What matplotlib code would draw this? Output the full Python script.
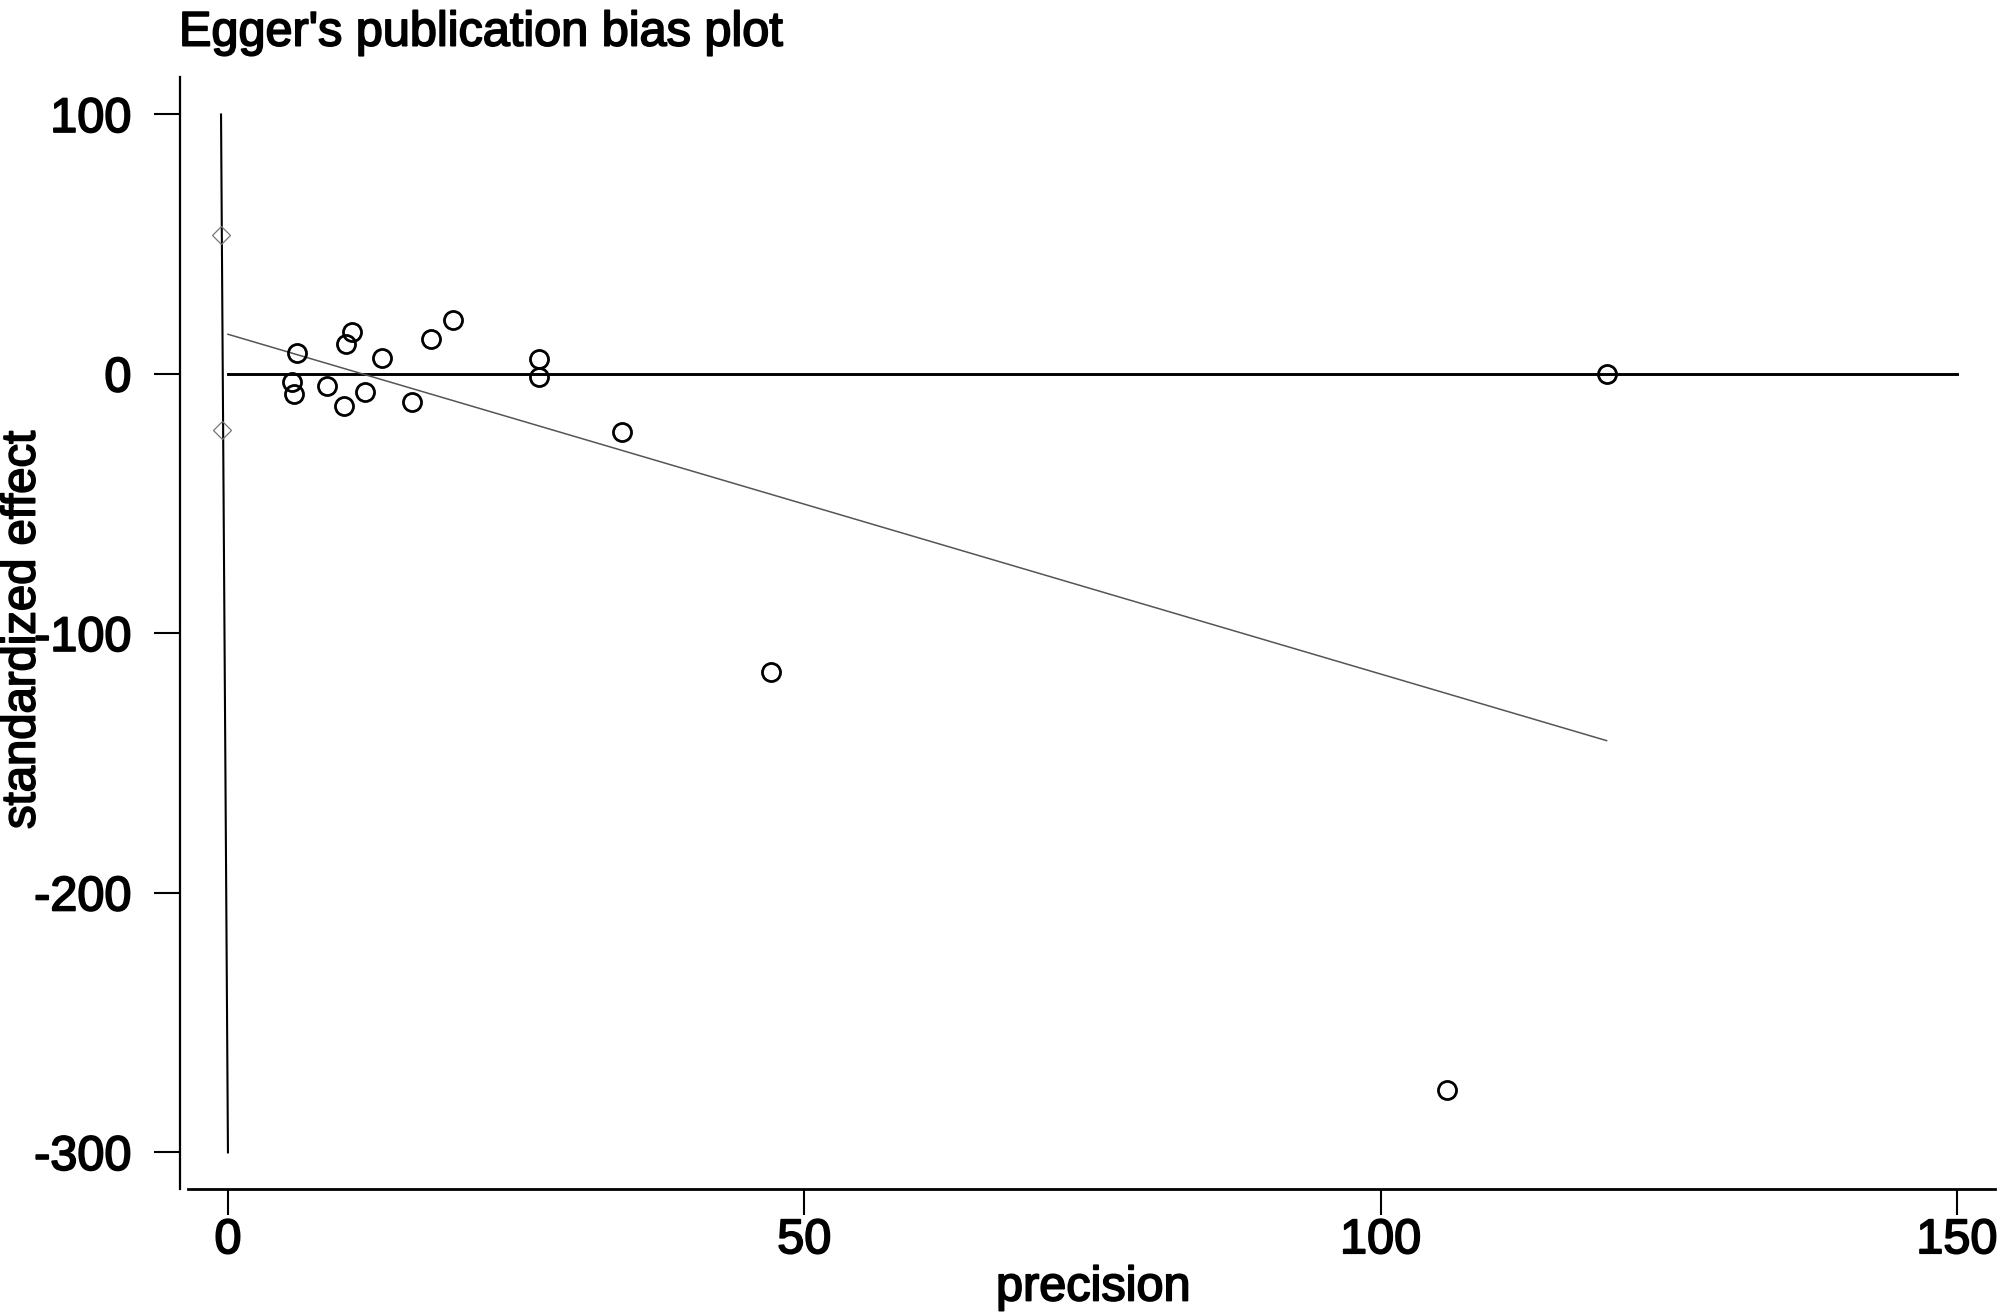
import numpy as np
import matplotlib
matplotlib.use("Agg")
import matplotlib.pyplot as plt
import matplotlib.patheffects as pe

plt.rcParams['font.family'] = ['Liberation Sans', 'DejaVu Sans']

# Estudios: precision y efecto estandarizado
precision = [5.96, 5.52, 5.75, 8.6, 10.1, 10.2, 10.8, 11.9, 13.4, 16.0,
             17.6, 19.5, 27.0, 27.0, 34.2, 47.1, 105.75, 119.6]
std_effect = [8.0, -3.0, -7.7, -4.6, -12.4, 11.5, 16.3, -7.1, 6.3, -10.9,
              13.4, 20.8, 5.7, -1.3, -22.3, -114.8, -275.9, 0.0]

# Recta de Egger
fit_x = [0.0, 119.6]
fit_y = [15.3, -141.3]

# IC del intercepto (rombos) y linea vertical
ci_x = [-0.57, -0.48]
ci_y = [53.6, -21.6]
vline_x = [-0.6, 0.0]
vline_y = [100, -300]

# Linea de referencia en cero
zero_x = [0, 150]
zero_y = [0, 0]

xticks = [0, 50, 100, 150]
yticks = [100, 0, -100, -200, -300]

FS = 35
grueso = [pe.withStroke(linewidth=1.3, foreground="black")]

fig = plt.figure(figsize=(20, 13.16), dpi=100)
ax = fig.add_axes([0.09, 0.0965, 0.9075, 0.845])

ax.plot(zero_x, zero_y, color="black", lw=2.1)
ax.plot(vline_x, vline_y, color="black", lw=1.5)
ax.plot(fit_x, fit_y, color="#555555", lw=1.1)
ax.plot(ci_x, ci_y, linestyle="none", marker="D", markersize=9,
        markerfacecolor="none", markeredgecolor="#777777", markeredgewidth=0.9)
ax.plot(precision, std_effect, linestyle="none", marker="o", markersize=13,
        markerfacecolor="none", markeredgecolor="black", markeredgewidth=2.0)

ax.set_xlim(-4.16, 153.3)
ax.set_ylim(-314.1, 114.45)

for s in ["top", "right"]:
    ax.spines[s].set_visible(False)
ax.spines["left"].set_linewidth(1.6)
ax.spines["bottom"].set_linewidth(2.0)
ax.spines["bottom"].set_bounds(-3.5, 153.3)

ax.set_xticks(xticks)
ax.set_yticks(yticks)
ax.set_yticklabels([str(v) for v in yticks])
ax.tick_params(axis="both", labelsize=FS, length=19, width=1.5, color="black")
ax.tick_params(axis="y", pad=16)
ax.tick_params(axis="x", pad=2)
for t in ax.get_xticklabels() + ax.get_yticklabels():
    t.set_path_effects(grueso)

# Etiquetas de ejes y titulo
fig.text(0.5466, 1 - 1288 / 1316, "precision", fontsize=FS,
         ha="center", va="center", path_effects=grueso)
fig.text(0.0113, 1 - 630 / 1316, "standardized effect", fontsize=34,
         ha="center", va="center", rotation=90, path_effects=grueso)
fig.text(0.0895, 1 - 45.6 / 1316, "Egger's publication bias plot", fontsize=FS,
         ha="left", va="baseline", path_effects=grueso)

fig.savefig("out.png", dpi=100)
